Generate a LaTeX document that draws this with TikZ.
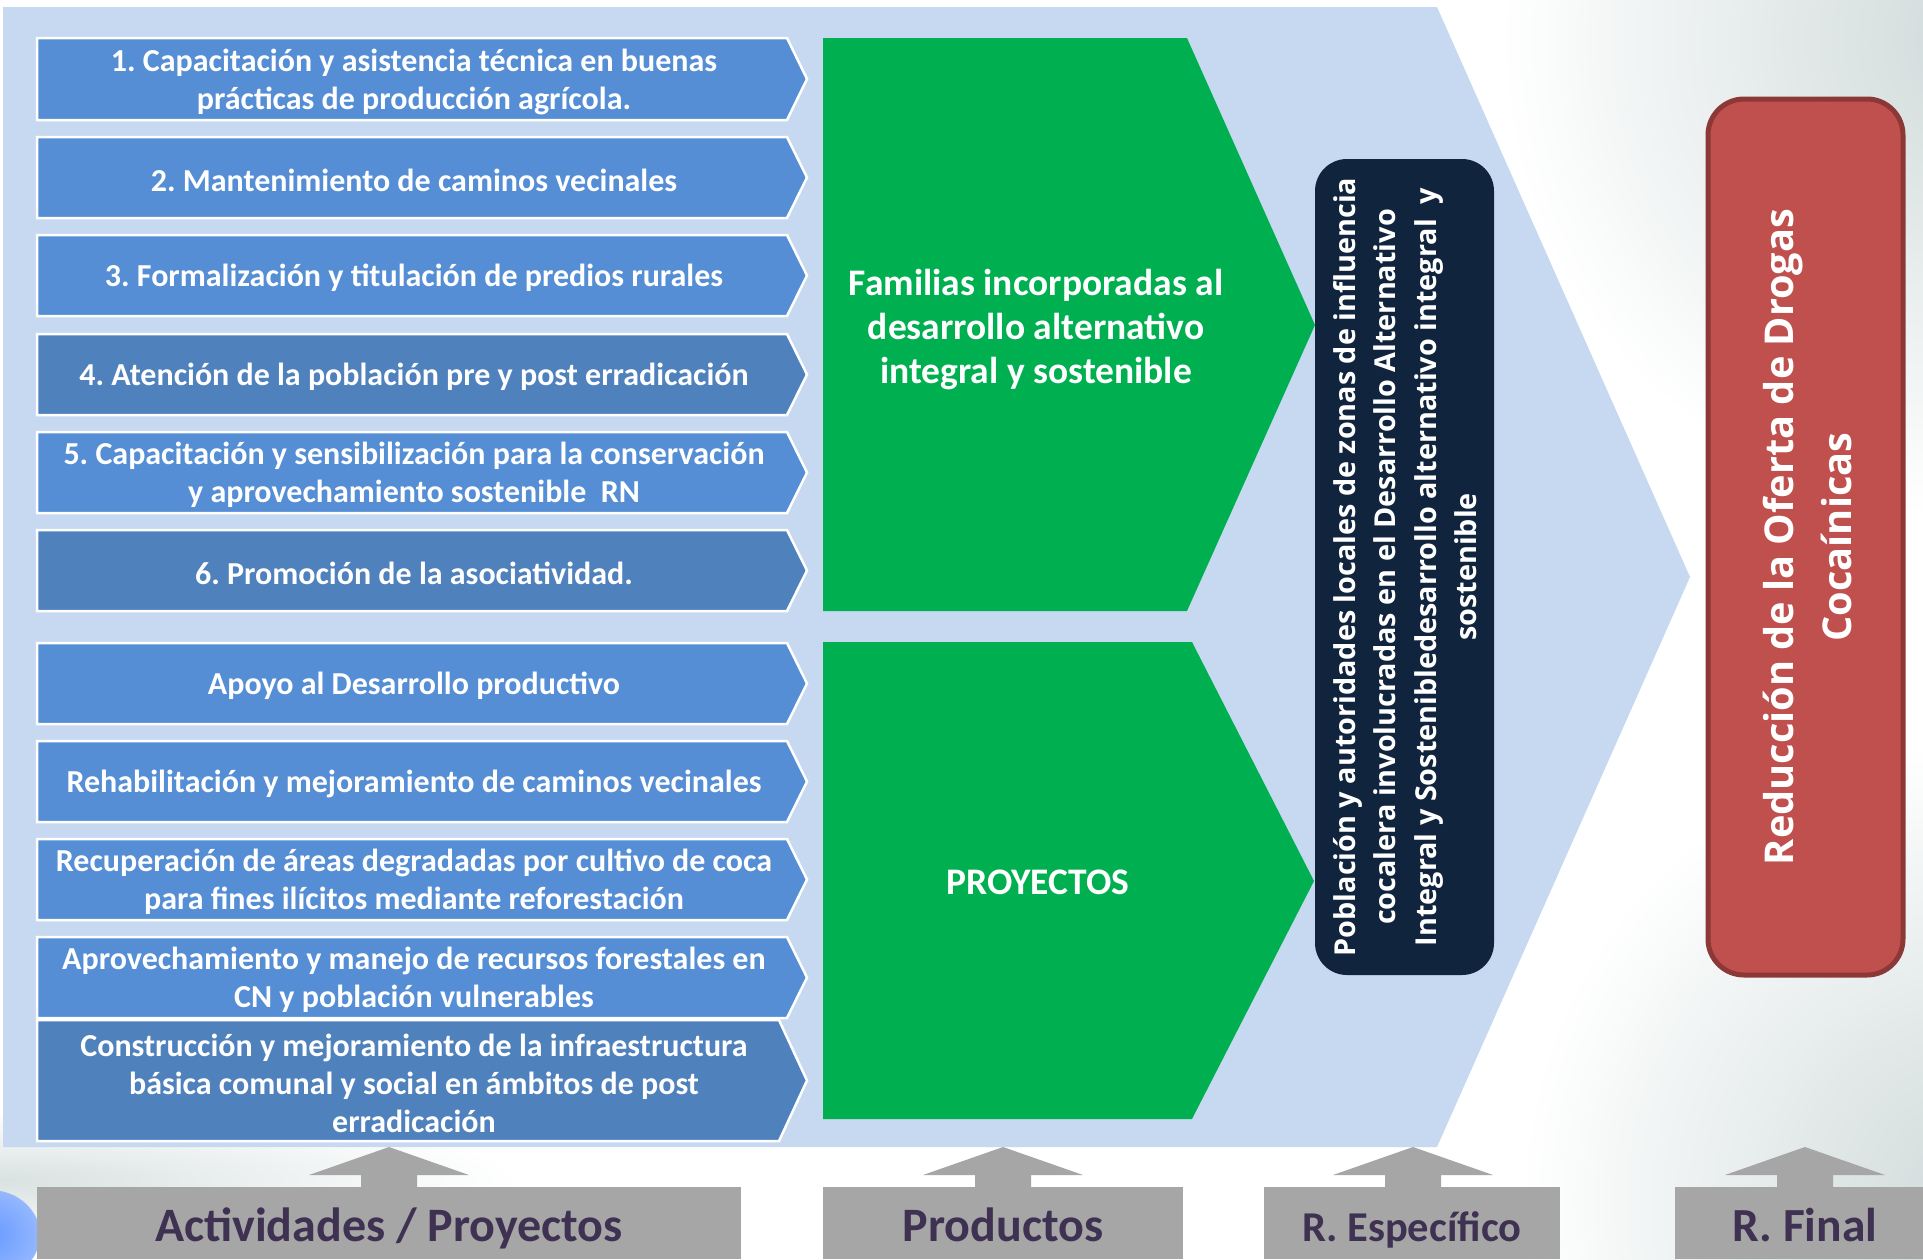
\documentclass[tikz,border=0pt]{standalone}
\usepackage{fontspec}
\setmainfont{Carlito}
\newfontfamily\osfont{Open Sans}
\frenchspacing
\definecolor{bgblue}{HTML}{C6D9F1}
\definecolor{actlight}{HTML}{558ED5}
\definecolor{actdark}{HTML}{4F81BD}
\definecolor{prodgreen}{HTML}{00B050}
\definecolor{navy}{HTML}{10243E}
\definecolor{redfill}{HTML}{C0504D}
\definecolor{redline}{HTML}{8C3836}
\definecolor{graybox}{HTML}{A6A6A6}
\definecolor{labeltext}{HTML}{3F3151}
\definecolor{bggray}{HTML}{D0DADA}
\definecolor{blob}{HTML}{6699FF}
\tikzset{
  actshape/.style={fill=#1, draw=white, line width=2.5pt, line join=miter},
  acttext/.style={text=white, font=\bfseries\fontsize{32}{38}\selectfont, align=center, inner sep=0pt},
  greentext/.style={text=white, font=\bfseries\fontsize{37.5}{44}\selectfont, align=center, inner sep=0pt},
  labelbox/.style={fill=graybox, draw=none},
  labeltxt/.style={text=labeltext, font=\bfseries\fontsize{48}{56}\selectfont, inner sep=0pt, anchor=base},
  uparrow/.style={fill=graybox, draw=none},
}
\newcommand\actbox[6]{% name, top, bottom, body right, colour, text
  \path[actshape=#5] (37,#2) -- (#4,#2) -- (807,{(#2+#3)/2}) -- (#4,#3) -- (37,#3) -- cycle;
  \node[acttext] (#1) at (414,{(#2+#3)/2+2.5}) {#6};
}
\newcommand\gupar[2]{% name, centre x
  \path[uparrow] (#2-28,1192) -- (#2-28,1175) -- (#2-80,1175) -- (#2,1147) -- (#2+80,1175) -- (#2+28,1175) -- (#2+28,1192) -- cycle;
  \coordinate (#1) at (#2,1147);
}
\begin{document}
\begin{tikzpicture}[x=1pt,y=-1pt]
\useasboundingbox (0,0) rectangle (1923,1259);
\fill[white] (0,0) rectangle (1923,1259);
% background soft shading
\begin{scope}
\clip (0,0) rectangle (1923,1259);
\shade[inner color=bggray, outer color=white] (1980,40) circle (480);
\shade[inner color=bggray, outer color=white] (1980,1200) circle (460);
\shade[inner color=bggray!80, outer color=white] (0,1180) ellipse (520 and 70);
\shade[inner color=blob, outer color=blob!70!white] (-10,1235) ellipse (50 and 45);
\end{scope}
% big light-blue chevron
\path[fill=bgblue] (3,7) -- (1437,7) -- (1690,577) -- (1437,1147) -- (3,1147) -- cycle;
% activity boxes
\actbox{a1}{38}{120}{787}{actlight}{1. Capacitación y asistencia técnica en buenas\\prácticas de producción agrícola.}
\actbox{a2}{137}{218}{787}{actlight}{2. Mantenimiento de caminos vecinales}
\actbox{a3}{235}{316}{787}{actlight}{3. Formalización y titulación de predios rurales}
\actbox{a4}{334}{415}{787}{actdark}{4. Atención de la población pre y post erradicación}
\actbox{a5}{432}{513}{787}{actlight}{5. Capacitación y sensibilización para la conservación\\y aprovechamiento sostenible\ \ RN}
\actbox{a6}{530}{611}{787}{actdark}{6. Promoción de la asociatividad.}
\actbox{p1}{643}{724}{787}{actlight}{Apoyo al Desarrollo productivo}
\actbox{p2}{741}{822}{787}{actlight}{Rehabilitación y mejoramiento de caminos vecinales}
\actbox{p3}{839}{920}{787}{actlight}{Recuperación de áreas degradadas por cultivo de coca\\para fines ilícitos mediante reforestación}
\actbox{p4}{937}{1018}{787}{actlight}{Aprovechamiento y manejo de recursos forestales en\\CN y población vulnerables}
\actbox{p5}{1020}{1141}{779}{actdark}{Construcción y mejoramiento de la infraestructura\\básica comunal y social en ámbitos de post\\erradicación}
% green product chevrons
\path[fill=prodgreen] (823,38) -- (1187,38) -- (1315,325) -- (1187,611) -- (823,611) -- cycle;
\node[greentext] (g1) at (1036,330) {Familias incorporadas al\\desarrollo alternativo\\integral y sostenible};
\path[fill=prodgreen] (823,642) -- (1192,642) -- (1314,881) -- (1192,1119) -- (823,1119) -- cycle;
\node[greentext] (g2) at (1038,882) {PROYECTOS};
% specific result
\path[fill=navy, rounded corners=32pt] (1315,159) rectangle (1494,975);
\node[text=white, font=\osfont\bfseries\fontsize{28.8}{40.5}\selectfont, align=center, rotate=90, inner sep=0pt] (esp) at (1405,567)
  {Población y autoridades locales de zonas de influencia\\cocalera involucradas en el Desarrollo Alternativo\\Integral y Sostenibledesarrollo alternativo integral\ \ y\\sostenible};
% final result
\path[fill=redfill, draw=redline, line width=5pt, rounded corners=36pt] (1708,99) rectangle (1903,975);
\node[text=white, font=\osfont\bfseries\fontsize{39.7}{58}\selectfont, align=center, rotate=90, inner sep=0pt] (fin) at (1807,537)
  {Reducción de la Oferta de Drogas\\Cocaínicas};
% bottom labels with arrows
\gupar{u1}{389}
\gupar{u2}{1003}
\gupar{u3}{1413}
\gupar{u4}{1805}
\path[labelbox] (37,1187) rectangle (741,1259);
\node[labeltxt] (l1) at (389,1241) {Actividades / Proyectos};
\path[labelbox] (823,1187) rectangle (1183,1259);
\node[labeltxt] (l2) at (1003,1241) {Productos};
\path[labelbox] (1264,1187) rectangle (1560,1259);
\node[labeltxt, font=\bfseries\fontsize{42.5}{50}\selectfont] (l3) at (1412,1241) {R. Específico};
\path[labelbox] (1675,1187) rectangle (1923,1259);
\node[labeltxt, font=\bfseries\fontsize{47.5}{56}\selectfont] (l4) at (1805,1241) {R. Final};
\end{tikzpicture}
\end{document}
